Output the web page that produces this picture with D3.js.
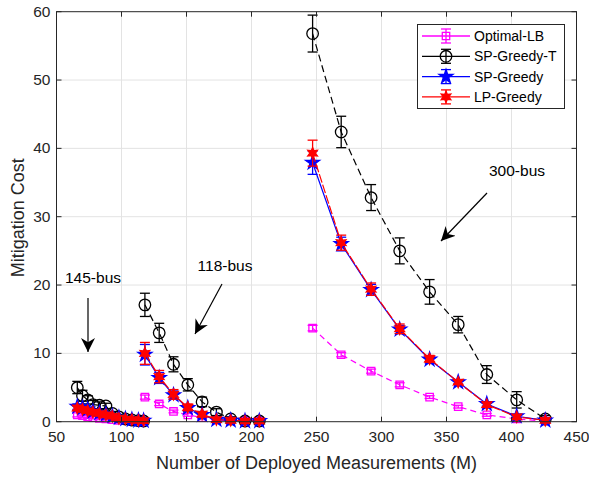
<!DOCTYPE html>
<html>
<head>
<meta charset="utf-8">
<script src="https://cdn.jsdelivr.net/npm/d3@7"></script>
<style>
  body { margin: 0; background: #fff; }
  text { font-family: "Liberation Sans", Arial, sans-serif; fill: #262626; }
</style>
</head>
<body>
<div class="chart"></div>
<script>
// x positions (number of deployed measurements) for each test system
var x145 = [66, 70, 74, 78, 83, 88, 93, 98, 103, 108, 113, 117];
var x118 = [118, 129, 140, 151, 162, 173, 184, 195, 206];
var x300 = [247, 269, 292, 314, 337, 359, 381, 404, 426];

// Optimal-LB
var lb145 = [1.0, 0.9, 0.7, 0.6, 0.5, 0.4, 0.3, 0.2, 0.15, 0.1, 0.1, 0.05];
var lb118 = [3.6, 2.6, 1.5, 1.0, 0.6, 0.3, 0.15, 0.1, 0.1];
var lb300 = [13.7, 9.8, 7.4, 5.4, 3.6, 2.2, 1.0, 0.4, 0.1];
var lbErr145 = [0.3, 0.3, 0.2, 0.2, 0.2, 0.15, 0.1, 0.1, 0.1, 0.05, 0.05, 0.05];
var lbErr118 = [0.3, 0.25, 0.2, 0.2, 0.15, 0.1, 0.1, 0.05, 0.05];
var lbErr300 = [0.4, 0.3, 0.3, 0.3, 0.2, 0.2, 0.2, 0.1, 0.1];

// SP-Greedy-T
var spt145 = [5.0, 3.8, 3.2, 2.5, 2.4, 2.3, 1.2, 0.7, 0.4, 0.25, 0.15, 0.1];
var spt118 = [17.1, 13.0, 8.4, 5.4, 2.9, 1.4, 0.4, 0.1, 0.1];
var spt300 = [56.8, 42.4, 32.8, 25.0, 19.0, 14.2, 6.9, 3.2, 0.4];
var sptErr145 = [0.9, 0.8, 0.6, 0.6, 0.5, 0.4, 0.3, 0.2, 0.15, 0.1, 0.1, 0.1];
var sptErr118 = [1.7, 1.4, 1.1, 0.9, 0.7, 0.5, 0.3, 0.2, 0.2];
var sptErr300 = [2.7, 2.3, 1.9, 1.9, 1.8, 1.2, 1.3, 1.2, 0.5];

// SP-Greedy
var sp145 = [2.2, 2.0, 1.8, 1.5, 1.3, 1.1, 0.8, 0.6, 0.4, 0.3, 0.2, 0.15];
var sp118 = [9.8, 6.4, 3.9, 2.0, 1.0, 0.3, 0.2, 0.1, 0.1];
var sp300 = [37.9, 26.0, 19.3, 13.5, 9.1, 5.8, 2.6, 0.8, 0.2];
var spErr145 = [0.4, 0.4, 0.3, 0.3, 0.3, 0.2, 0.2, 0.2, 0.1, 0.1, 0.1, 0.1];
var spErr118 = [1.5, 0.8, 0.6, 0.5, 0.4, 0.3, 0.2, 0.1, 0.1];
var spErr300 = [1.7, 1.0, 0.8, 0.6, 0.5, 0.3, 0.3, 0.2, 0.2];

// LP-Greedy
var lp145 = [2.0, 1.8, 1.6, 1.4, 1.2, 1.0, 0.8, 0.5, 0.4, 0.3, 0.2, 0.15];
var lp118 = [10.0, 6.6, 4.0, 2.1, 1.1, 0.3, 0.2, 0.1, 0.1];
var lp300 = [39.3, 26.2, 19.4, 13.6, 9.2, 5.8, 2.5, 0.7, 0.2];
var lpErr145 = [0.4, 0.3, 0.3, 0.3, 0.2, 0.2, 0.2, 0.1, 0.1, 0.1, 0.1, 0.1];
var lpErr118 = [1.6, 0.9, 0.7, 0.5, 0.4, 0.3, 0.2, 0.2, 0.2];
var lpErr300 = [1.9, 1.1, 0.9, 0.7, 0.5, 0.3, 0.3, 0.3, 0.2];

var xTicks = [50, 100, 150, 200, 250, 300, 350, 400, 450];
var yTicks = [0, 10, 20, 30, 40, 50, 60];

var W = 589, H = 477;
var m = { left: 56.5, right: 12.5, top: 11.7, bottom: 55.3 };

var svg = d3.select('.chart').append('svg')
  .attr('width', W).attr('height', H);
svg.append('rect').attr('width', W).attr('height', H).attr('fill', '#fff');

var x = d3.scaleLinear().domain([50, 450]).range([m.left, W - m.right]);
var y = d3.scaleLinear().domain([0, 60]).range([H - m.bottom, m.top]);

// grid
var g = svg.append('g');
g.selectAll('.gx').data(xTicks.slice(1, -1)).enter().append('line')
  .attr('x1', d => x(d)).attr('x2', d => x(d))
  .attr('y1', y(0)).attr('y2', y(60))
  .attr('stroke', '#e3e3e3').attr('stroke-width', 1);
g.selectAll('.gy').data(yTicks.slice(1, -1)).enter().append('line')
  .attr('x1', x(50)).attr('x2', x(450))
  .attr('y1', d => y(d)).attr('y2', d => y(d))
  .attr('stroke', '#e3e3e3').attr('stroke-width', 1);

// hexagram symbol (MATLAB 'h')
var symbolHexagram = {
  draw: function (ctx, size) {
    var r = Math.sqrt(size) * 0.62, ri = r * 0.5;
    for (var i = 0; i < 12; i++) {
      var a = -Math.PI / 2 + i * Math.PI / 6;
      var rr = i % 2 ? ri : r;
      if (i === 0) ctx.moveTo(rr * Math.cos(a), rr * Math.sin(a));
      else ctx.lineTo(rr * Math.cos(a), rr * Math.sin(a));
    }
    ctx.closePath();
  }
};

var series = [
  { name: 'Optimal-LB', color: '#ff00ff', dash: '6,4', xs: [x145, x118, x300],
    ys: [lb145, lb118, lb300], es: [lbErr145, lbErr118, lbErr300],
    sym: d3.symbolSquare, size: 55, fill: 'none' },
  { name: 'SP-Greedy-T', color: '#000000', dash: '7,4', xs: [x145, x118, x300],
    ys: [spt145, spt118, spt300], es: [sptErr145, sptErr118, sptErr300],
    sym: d3.symbolCircle, size: 105, fill: 'none' },
  { name: 'SP-Greedy', color: '#0000ff', dash: null, xs: [x145, x118, x300],
    ys: [sp145, sp118, sp300], es: [spErr145, spErr118, spErr300],
    sym: d3.symbolStar, size: 60, fill: '#0000ff' },
  { name: 'LP-Greedy', color: '#ff0000', dash: '9,2', xs: [x145, x118, x300],
    ys: [lp145, lp118, lp300], es: [lpErr145, lpErr118, lpErr300],
    sym: symbolHexagram, size: 80, fill: '#ff0000' }
];

var line = d3.line().x(d => x(d.x)).y(d => y(d.y));
var cap = 5;

series.forEach(function (s) {
  var sg = svg.append('g');
  s.xs.forEach(function (xs, k) {
    var pts = xs.map((v, i) => ({ x: v, y: s.ys[k][i], e: s.es[k][i] }));
    sg.append('path').datum(pts)
      .attr('d', line).attr('fill', 'none')
      .attr('stroke', s.color).attr('stroke-width', 1.2)
      .attr('stroke-dasharray', s.dash);
    var eb = sg.selectAll(null).data(pts).enter().append('g')
      .attr('stroke', s.color).attr('stroke-width', 1.3);
    eb.append('line')
      .attr('x1', d => x(d.x)).attr('x2', d => x(d.x))
      .attr('y1', d => y(d.y - d.e)).attr('y2', d => y(d.y + d.e));
    eb.append('line')
      .attr('x1', d => x(d.x) - cap).attr('x2', d => x(d.x) + cap)
      .attr('y1', d => y(d.y - d.e)).attr('y2', d => y(d.y - d.e));
    eb.append('line')
      .attr('x1', d => x(d.x) - cap).attr('x2', d => x(d.x) + cap)
      .attr('y1', d => y(d.y + d.e)).attr('y2', d => y(d.y + d.e));
    sg.selectAll(null).data(pts).enter().append('path')
      .attr('transform', d => 'translate(' + x(d.x) + ',' + y(d.y) + ')')
      .attr('d', d3.symbol().type(s.sym).size(s.size))
      .attr('fill', s.fill).attr('stroke', s.color).attr('stroke-width', 1.3);
  });
});

// axes box
var ax = svg.append('g');
ax.append('rect').attr('x', x(50)).attr('y', y(60))
  .attr('width', x(450) - x(50)).attr('height', y(0) - y(60))
  .attr('fill', 'none').attr('stroke', '#262626').attr('stroke-width', 1);
ax.selectAll('.tx').data(xTicks).enter().append('path')
  .attr('d', d => 'M' + x(d) + ',' + y(0) + 'v-5M' + x(d) + ',' + y(60) + 'v5')
  .attr('stroke', '#262626');
ax.selectAll('.ty').data(yTicks).enter().append('path')
  .attr('d', d => 'M' + x(50) + ',' + y(d) + 'h5M' + x(450) + ',' + y(d) + 'h-5')
  .attr('stroke', '#262626');
ax.selectAll('.lx').data(xTicks).enter().append('text')
  .attr('x', d => x(d)).attr('y', y(0) + 20)
  .attr('text-anchor', 'middle').attr('font-size', 15.5).text(d => d);
ax.selectAll('.ly').data(yTicks).enter().append('text')
  .attr('x', x(50) - 6).attr('y', d => y(d) + 5)
  .attr('text-anchor', 'end').attr('font-size', 15.5).text(d => d);

svg.append('text').attr('x', (x(50) + x(450)) / 2).attr('y', 469)
  .attr('text-anchor', 'middle').attr('font-size', 18)
  .text('Number of Deployed Measurements (M)');
svg.append('text')
  .attr('transform', 'translate(24,' + (y(30) + 1) + ') rotate(-90)')
  .attr('text-anchor', 'middle').attr('font-size', 18)
  .text('Mitigation Cost');

// annotations
var defs = svg.append('defs');
defs.append('marker').attr('id', 'ah').attr('viewBox', '0 0 10 10')
  .attr('refX', 10).attr('refY', 5).attr('markerWidth', 14).attr('markerHeight', 14)
  .attr('markerUnits', 'userSpaceOnUse').attr('orient', 'auto')
  .append('path').attr('d', 'M0,0L10,5L0,10L3,5Z').attr('fill', '#000');

var notes = [
  { t: '145-bus', tx: 93, ty: 283, a: [[88, 298], [88, 352]] },
  { t: '118-bus', tx: 225, ty: 271, a: [[222, 284], [195, 334]] },
  { t: '300-bus', tx: 517, ty: 176, a: [[487, 193], [441, 241]] }
];
notes.forEach(function (n) {
  svg.append('text').attr('x', n.tx).attr('y', n.ty)
    .attr('text-anchor', 'middle').attr('font-size', 15.5).style('fill', '#000').text(n.t);
  svg.append('line')
    .attr('x1', n.a[0][0]).attr('y1', n.a[0][1]).attr('x2', n.a[1][0]).attr('y2', n.a[1][1])
    .attr('stroke', '#000').attr('stroke-width', 1.2).attr('marker-end', 'url(#ah)');
});

// legend
var lg = svg.append('g');
lg.append('rect').attr('x', 417.5).attr('y', 24.5).attr('width', 147).attr('height', 84)
  .attr('fill', '#fff').attr('stroke', '#262626').attr('stroke-width', 1);
series.forEach(function (s, i) {
  var ly = 36 + i * 20.3;
  var r = lg.append('g').attr('stroke', s.color).attr('stroke-width', 1.3);
  r.append('line').attr('x1', 422).attr('x2', 470).attr('y1', ly).attr('y2', ly);
  r.append('line').attr('x1', 446).attr('x2', 446).attr('y1', ly - 7).attr('y2', ly + 7);
  r.append('line').attr('x1', 441).attr('x2', 451).attr('y1', ly - 7).attr('y2', ly - 7);
  r.append('line').attr('x1', 441).attr('x2', 451).attr('y1', ly + 7).attr('y2', ly + 7);
  r.append('path').attr('transform', 'translate(446,' + ly + ')')
    .attr('d', d3.symbol().type(s.sym).size(s.size)).attr('fill', s.fill);
  lg.append('text').attr('x', 474).attr('y', ly + 5).attr('font-size', 14)
    .style('fill', '#000').text(s.name);
});
</script>
</body>
</html>
